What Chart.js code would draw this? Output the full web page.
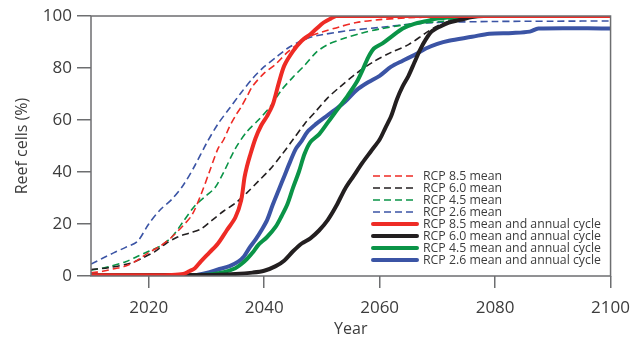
<!DOCTYPE html>
<html>
<head>
<meta charset="utf-8">
<script src="https://cdn.jsdelivr.net/npm/chart.js@4.4.0/dist/chart.umd.min.js"></script>
<style>
  html, body { margin: 0; padding: 0; background: #fff; }
  #wrap { width: 640px; height: 339px; }
</style>
</head>
<body>
<div id="wrap"><canvas id="c" width="640" height="339"></canvas></div>
<script>
// --- Data ---
const xTicks = [2020, 2040, 2060, 2080, 2100];
const yTicks = [0, 20, 40, 60, 80, 100];

// RCP 8.5 mean
const rcp85MeanYears = [2010, 2012, 2014, 2016, 2018, 2020, 2022, 2024, 2026, 2027.5, 2029, 2030.5, 2032, 2033, 2034, 2035, 2036, 2037, 2038, 2040, 2042, 2044, 2046, 2048, 2050, 2053, 2056, 2060, 2065, 2070, 2080, 2100];
const rcp85MeanVals  = [1.2, 1.8, 2.8, 3.8, 6.0, 9.0, 11.5, 15, 19.5, 23.5, 31, 40, 49, 52.5, 57.5, 61.5, 65, 69, 73, 78, 81.5, 86, 89.5, 92.3, 93.8, 95.8, 97.5, 98.6, 99.3, 99.7, 100, 100];

// RCP 6.0 mean
const rcp60MeanYears = [2010, 2013, 2017, 2019, 2021, 2023, 2025, 2027, 2029, 2031, 2033, 2035, 2037, 2039, 2041, 2043, 2045, 2047, 2049, 2051, 2053, 2056, 2059, 2062, 2065, 2068, 2070, 2073, 2076, 2080, 2100];
const rcp60MeanVals  = [2.5, 3.2, 5, 7, 9.3, 12.5, 15, 16.5, 18, 21.5, 25, 28, 32, 36.5, 41, 46.5, 52.5, 58.5, 63.5, 68.5, 72.5, 78, 82.5, 86, 89, 93.5, 96.2, 98.5, 99.5, 100, 100];

// RCP 4.5 mean
const rcp45MeanYears = [2010, 2013, 2016, 2018, 2020, 2022, 2024, 2026, 2028, 2030, 2031.5, 2033, 2035, 2037, 2039, 2041, 2043, 2045, 2047, 2049, 2051, 2054, 2057, 2060, 2064, 2068, 2071, 2074, 2078, 2100];
const rcp45MeanVals  = [2.2, 3.5, 5.5, 7.5, 9.5, 11.5, 15, 21, 27, 31, 34, 40, 49, 55.5, 60, 65, 71.5, 76.5, 81, 86, 89, 91.5, 93.5, 95, 96.5, 97.4, 98, 99.2, 99.6, 99.6];

// RCP 2.6 mean
const rcp26MeanYears = [2010, 2012, 2014, 2016, 2018, 2020, 2022, 2024, 2026, 2028, 2030, 2032, 2034, 2036, 2038, 2040, 2042, 2044, 2046, 2048, 2050, 2055, 2060, 2065, 2070, 2080, 2090, 2100];
const rcp26MeanVals  = [4.6, 6.8, 9, 11, 13.2, 20, 25.5, 29.5, 35, 42.5, 51, 58.5, 64.5, 70.5, 76, 80.5, 84, 87.5, 90, 91.8, 92.8, 94.5, 95.6, 96.8, 97.5, 97.9, 98, 98.1];

// RCP 8.5 mean and annual cycle
const rcp85CycYears = [2010, 2020, 2024, 2026, 2027, 2028, 2029, 2030.5, 2032, 2033.5, 2035, 2036, 2036.6, 2037, 2037.5, 2038.5, 2039.5, 2040.5, 2041.5, 2042.5, 2043.5, 2045, 2046.5, 2048, 2049, 2050.3, 2051.5, 2052.5, 2100];
const rcp85CycVals  = [0.3, 0.3, 0.4, 0.8, 1.8, 3, 5.5, 9, 12.5, 17.5, 22.5, 29, 38, 42, 46, 53, 58, 61.5, 66, 74, 81, 86.5, 90.5, 93, 95, 97.5, 99, 100, 100];

// RCP 6.0 mean and annual cycle
const rcp60CycYears = [2010, 2030, 2035, 2038, 2040, 2042, 2043.5, 2045, 2046.5, 2048, 2049.5, 2051, 2052.5, 2054, 2055.5, 2057, 2058.5, 2060, 2061, 2062, 2063, 2064, 2065, 2066, 2067, 2068, 2069, 2070.5, 2072, 2074, 2076, 2078, 2100];
const rcp60CycVals  = [0.2, 0.4, 0.8, 1.3, 2, 3.8, 6, 9.5, 12.5, 14.5, 17.5, 21.5, 27, 33.5, 38.5, 43.5, 48, 52.5, 57, 61.5, 68, 73, 77, 82, 87, 91, 94, 96, 97.5, 98.5, 99.6, 100, 100];

// RCP 4.5 mean and annual cycle
const rcp45CycYears = [2010, 2030, 2033, 2035, 2036, 2037, 2038, 2039, 2040.5, 2042, 2043, 2044, 2045, 2046, 2047, 2048, 2049.5, 2051, 2052, 2053, 2054.5, 2056, 2057, 2058, 2059, 2060.5, 2062, 2064, 2066, 2068, 2070, 2073, 2076, 2100];
const rcp45CycVals  = [0.2, 0.5, 1.5, 3, 4.5, 6.5, 9, 12, 15, 19, 23, 27.5, 34, 40, 47, 51.5, 54.5, 59, 62, 65, 69.5, 74.5, 79, 84, 87.5, 89.5, 92, 95.2, 97, 98, 99, 99.6, 100, 100];

// RCP 2.6 mean and annual cycle
const rcp26CycYears = [2010, 2028, 2030, 2032, 2034, 2035.5, 2036.5, 2037.5, 2038.5, 2039.5, 2040.5, 2041.5, 2042.5, 2043.5, 2044.5, 2045.5, 2046.5, 2047.5, 2049, 2050.5, 2052, 2054, 2056, 2058, 2060, 2062, 2064, 2066, 2068, 2070, 2072, 2076, 2079, 2083, 2086, 2087.5, 2100];
const rcp26CycVals  = [0.2, 0.4, 1.2, 2.5, 3.8, 5.5, 7.5, 11, 14, 17.5, 21.5, 27.5, 33, 38.5, 44, 49, 52, 55.5, 58.5, 61, 63.5, 67, 71.5, 74.5, 77, 80.5, 82.8, 85, 87.5, 89.3, 90.5, 92, 93.2, 93.5, 94, 95.2, 95.2];

const RED = "#ee2b25", BLACK = "#231f20", GREEN = "#0a9447", BLUE = "#3b54a5";
const GREY = "#6d6e70", TEXT = "#3c3c3c";

function pts(xs, ys) { return xs.map((x, i) => ({ x, y: ys[i] })); }

function dashed(label, color, xs, ys) {
  return { label, data: pts(xs, ys), borderColor: color, borderWidth: 1.6,
    borderDash: [7, 4], pointRadius: 0, tension: 0.3, order: 1, fill: false };
}
function solid(label, color, xs, ys, order) {
  return { label, data: pts(xs, ys), borderColor: color, borderWidth: 4,
    pointRadius: 0, tension: 0.3, order, fill: false, borderCapStyle: "round" };
}

// --- Legend drawn inside the plot ---
const insideLegend = {
  id: "insideLegend",
  afterDatasetsDraw(chart) {
    const ctx = chart.ctx;
    const x0 = 373, x1 = 417, tx = 423;
    let y = 176;
    ctx.save();
    // fit the longest label to the width seen in the figure
    ctx.font = "13px 'Open Sans'";
    const w = ctx.measureText("RCP 6.0 mean and annual cycle").width;
    const size = Math.min(13, 13 * 178 / w);
    ctx.font = size.toFixed(2) + "px 'Open Sans'";
    ctx.textBaseline = "middle";
    chart.data.datasets.forEach(ds => {
      ctx.beginPath();
      ctx.strokeStyle = ds.borderColor;
      ctx.lineWidth = ds.borderWidth;
      ctx.setLineDash(ds.borderDash || []);
      ctx.lineCap = ds.borderDash ? "butt" : "round";
      ctx.moveTo(x0, y);
      ctx.lineTo(x1, y);
      ctx.stroke();
      ctx.setLineDash([]);
      ctx.fillStyle = TEXT;
      ctx.fillText(ds.label, tx, y + 0.5);
      y += 12;
    });
    ctx.restore();
  }
};

// --- Frame around the plot ---
const frame = {
  id: "frame",
  afterDraw(chart) {
    const a = chart.chartArea, ctx = chart.ctx;
    ctx.save();
    ctx.strokeStyle = GREY;
    ctx.lineWidth = 1.5;
    ctx.strokeRect(a.left, a.top, a.right - a.left, a.bottom - a.top);
    ctx.restore();
  }
};

new Chart(document.getElementById("c"), {
  type: "line",
  data: {
    datasets: [
      dashed("RCP 8.5 mean", RED, rcp85MeanYears, rcp85MeanVals),
      dashed("RCP 6.0 mean", BLACK, rcp60MeanYears, rcp60MeanVals),
      dashed("RCP 4.5 mean", GREEN, rcp45MeanYears, rcp45MeanVals),
      dashed("RCP 2.6 mean", BLUE, rcp26MeanYears, rcp26MeanVals),
      solid("RCP 8.5 mean and annual cycle", RED, rcp85CycYears, rcp85CycVals, 0),
      solid("RCP 6.0 mean and annual cycle", BLACK, rcp60CycYears, rcp60CycVals, 0),
      solid("RCP 4.5 mean and annual cycle", GREEN, rcp45CycYears, rcp45CycVals, 0),
      solid("RCP 2.6 mean and annual cycle", BLUE, rcp26CycYears, rcp26CycVals, 0)
    ]
  },
  options: {
    responsive: false,
    animation: false,
    layout: { padding: { top: 16, right: 28, left: 0, bottom: 0 } },
    plugins: { legend: { display: false }, tooltip: { enabled: false } },
    scales: {
      x: {
        type: "linear", min: 2010, max: 2100,
        afterBuildTicks: s => { s.ticks = xTicks.map(v => ({ value: v })); },
        afterFit: s => { s.height = 63; },
        border: { display: false },
        grid: { drawOnChartArea: false, tickLength: 12, color: GREY, lineWidth: 1.5 },
        ticks: { color: TEXT, font: { family: "Open Sans", size: 17 }, padding: 10, maxRotation: 0,
          callback: v => String(v) },
        title: { display: true, text: "Year", color: TEXT, font: { family: "Open Sans", size: 16 }, padding: { top: 0, bottom: 0 } }
      },
      y: {
        min: 0, max: 100,
        afterBuildTicks: s => { s.ticks = yTicks.map(v => ({ value: v })); },
        afterFit: s => { s.width = 91; },
        border: { display: false },
        grid: { drawOnChartArea: false, tickLength: 14, color: GREY, lineWidth: 1.5 },
        ticks: { color: TEXT, font: { family: "Open Sans", size: 17 }, padding: 5 },
        title: { display: true, text: "Reef cells (%)", color: TEXT, font: { family: "Open Sans", size: 16 }, padding: { top: 13, bottom: 0 } }
      }
    }
  },
  plugins: [insideLegend, frame]
});
</script>
</body>
</html>
